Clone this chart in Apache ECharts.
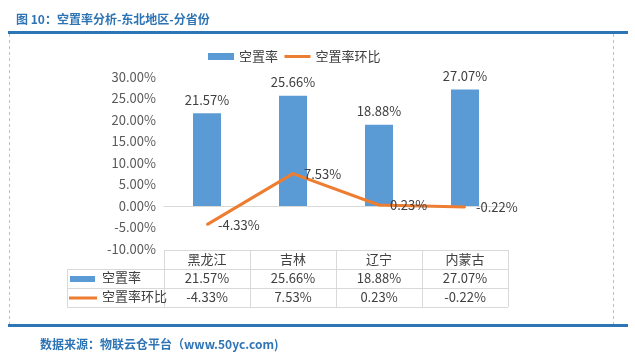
<!DOCTYPE html>
<html><head><meta charset="utf-8">
<script src="https://cdn.jsdelivr.net/npm/echarts@6/dist/echarts.min.js"></script>
<style>html,body{margin:0;padding:0;background:#fff}#c{width:635px;height:362px}</style>
</head><body><div id="c"></div>
<script>
const categories = ['黑龙江', '吉林', '辽宁', '内蒙古'];
const vacancyRate = [21.57, 25.66, 18.88, 27.07];
const vacancyChange = [-4.33, 7.53, 0.23, -0.22];
const seriesNames = ['空置率', '空置率环比'];
const titleText = '图 10：空置率分析-东北地区-分省份';
const sourceText = '数据来源：物联云仓平台（www.50yc.com)';

const FONT = '"Noto Sans CJK SC", "Microsoft YaHei", sans-serif';
const GL = 164, GR = 508, GT = 77, GB = 249;
const W = 635, H = 362;
const colW = (GR - GL) / categories.length;
const ROW = 19;
const TBL_L = 67;
const BLUE = '#5B9BD5', ORANGE = '#ED7D31', TXT = '#404040', LINE = '#D9D9D9';
const fmt = v => v.toFixed(2) + '%';

const graphics = [];
// header / footer
graphics.push({type:'text', left:16, top:13, style:{text:titleText, font:'bold 12px ' + FONT, fill:'#2E74B5'}});
graphics.push({type:'rect', shape:{x:8, y:31, width:620, height:3}, style:{fill:'#2E75B6'}});
graphics.push({type:'rect', shape:{x:8, y:324, width:620, height:3}, style:{fill:'#2E75B6'}});
graphics.push({type:'line', shape:{x1:9.5, y1:34, x2:9.5, y2:324}, style:{stroke:'#BFBFBF', lineWidth:1, lineDash:[3,3]}});
graphics.push({type:'line', shape:{x1:613.5, y1:34, x2:613.5, y2:324}, style:{stroke:'#BFBFBF', lineWidth:1, lineDash:[3,3]}});
graphics.push({type:'text', left:40, top:338, style:{text:sourceText, font:'bold 12px ' + FONT, fill:'#2E74B5'}});
// table grid
const t0 = GB + 1;
graphics.push({type:'line', shape:{x1:GL, y1:t0+0.5, x2:GR, y2:t0+0.5}, style:{stroke:LINE, lineWidth:1}});
for (let r = 1; r <= 3; r++) {
  const y = t0 + r * ROW + 0.5;
  graphics.push({type:'line', shape:{x1:TBL_L, y1:y, x2:GR, y2:y}, style:{stroke:LINE, lineWidth:1}});
}
graphics.push({type:'line', shape:{x1:TBL_L+0.5, y1:t0+ROW, x2:TBL_L+0.5, y2:t0+3*ROW}, style:{stroke:LINE, lineWidth:1}});
for (let i = 0; i <= categories.length; i++) {
  const x = Math.round(GL + i * colW) + 0.5;
  graphics.push({type:'line', shape:{x1:x, y1:t0, x2:x, y2:t0+3*ROW}, style:{stroke:LINE, lineWidth:1}});
}
// table legend keys
graphics.push({type:'rect', shape:{x:70, y:t0+ROW+7, width:25, height:6}, style:{fill:BLUE}});
graphics.push({type:'text', left:102, top:t0+ROW+2, style:{text:seriesNames[0], font:'13px ' + FONT, fill:TXT}});
graphics.push({type:'line', shape:{x1:69, y1:t0+2*ROW+10, x2:97, y2:t0+2*ROW+10}, style:{stroke:ORANGE, lineWidth:3}});
graphics.push({type:'text', left:102, top:t0+2*ROW+2, style:{text:seriesNames[1], font:'13px ' + FONT, fill:TXT}});

function tableAxis(data, offset) {
  return {type:'category', data:data, position:'bottom', offset:offset, gridIndex:0,
    axisLine:{show:false, onZero:false}, axisTick:{show:false}, splitLine:{show:false},
    axisLabel:{color:TXT, fontSize:13, fontFamily:FONT, margin:4, interval:0}};
}

const chart = echarts.init(document.getElementById('c'), null, {renderer:'canvas'});
chart.setOption({
  animation:false,
  backgroundColor:'#fff',
  textStyle:{fontFamily:FONT},
  legend:{left:203, top:45, itemGap:5, itemWidth:26, itemHeight:7,
    textStyle:{color:TXT, fontSize:13, fontFamily:FONT},
    data:[{name:seriesNames[0], icon:'rect'},
          {name:seriesNames[1], itemStyle:{opacity:0}, lineStyle:{width:3, color:ORANGE}}]},
  grid:{left:GL, right:W-GR, top:GT, bottom:H-GB, containLabel:false},
  xAxis:[
    {type:'category', data:categories, axisLine:{onZero:true, lineStyle:{color:LINE, width:1}},
     axisTick:{show:false}, axisLabel:{show:false}, splitLine:{show:false}},
    tableAxis(categories, 0),
    tableAxis(vacancyRate.map(fmt), ROW),
    tableAxis(vacancyChange.map(fmt), ROW*2)
  ],
  yAxis:{type:'value', min:-10, max:30, interval:5,
    axisLine:{show:false}, axisTick:{show:false}, splitLine:{show:false},
    axisLabel:{color:'#595959', fontSize:13, fontFamily:FONT, margin:8, formatter:fmt}},
  series:[
    {name:seriesNames[0], type:'bar', data:vacancyRate, barWidth:28, xAxisIndex:0,
     itemStyle:{color:BLUE},
     label:{show:true, position:'top', distance:7, color:TXT, fontSize:13, fontFamily:FONT, formatter:p=>fmt(p.value)}},
    {name:seriesNames[1], type:'line', data:vacancyChange, xAxisIndex:0, symbol:'circle', symbolSize:2, showSymbol:true,
     lineStyle:{color:ORANGE, width:3}, itemStyle:{color:ORANGE},
     label:{show:true, position:'right', distance:10, color:TXT, fontSize:13, fontFamily:FONT, formatter:p=>fmt(p.value)}}
  ],
  graphic:graphics
});
</script></body></html>
